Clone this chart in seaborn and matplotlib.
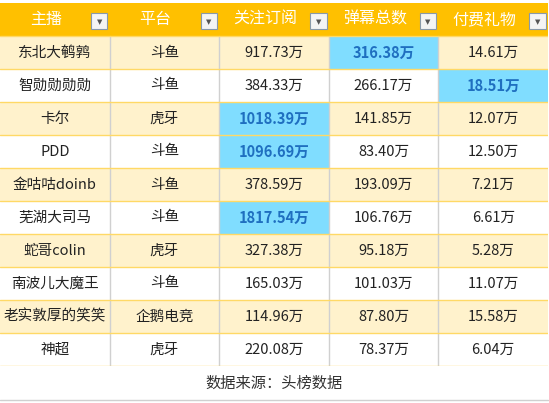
import matplotlib
matplotlib.use("Agg")
import matplotlib.pyplot as plt
import seaborn as sns
import numpy as np
from matplotlib.colors import ListedColormap
from matplotlib.patches import Rectangle

sns.set_theme(style="white")
plt.rcParams['font.family'] = ['Noto Sans CJK SC', 'DejaVu Sans']

headers = ["主播", "平台", "关注订阅", "弹幕总数", "付费礼物"]
streamers = ["东北大鹌鹑", "智勋勋勋勋", "卡尔", "PDD", "金咕咕doinb", "芜湖大司马",
             "蛇哥colin", "南波儿大魔王", "老实敦厚的笑笑", "神超"]
platforms = ["斗鱼", "斗鱼", "虎牙", "斗鱼", "斗鱼", "斗鱼", "虎牙", "斗鱼", "企鹅电竞", "虎牙"]
follows = [917.73, 384.33, 1018.39, 1096.69, 378.59, 1817.54, 327.38, 165.03, 114.96, 220.08]
danmu = [316.38, 266.17, 141.85, 83.40, 193.09, 106.76, 95.18, 101.03, 87.80, 78.37]
gifts = [14.61, 18.51, 12.07, 12.50, 7.21, 6.61, 5.28, 11.07, 15.58, 6.04]
highlight = [(0, 3), (1, 4), (2, 2), (3, 2), (5, 2)]
footer = "数据来源：头榜数据"

n = len(streamers)
codes = np.zeros((n + 1, 5))
codes[0, :] = 3
for i in range(n):
    codes[i + 1, :] = 1 if i % 2 == 0 else 0
for r, c in highlight:
    codes[r + 1, c] = 2
labels = [headers]
for i in range(n):
    labels.append([streamers[i], platforms[i], f"{follows[i]:.2f}万",
                   f"{danmu[i]:.2f}万", f"{gifts[i]:.2f}万"])
labels = np.array(labels, dtype=object)

cmap = ListedColormap(["#FFFFFF", "#FFF2CC", "#80DDFF", "#FFC000"])
fig = plt.figure(figsize=(5.49, 4.03), dpi=100)
ax = fig.add_axes([0, 1 - 366 / 403, 548 / 549, 363 / 403])
sns.heatmap(codes, cmap=cmap, vmin=-0.5, vmax=3.5, cbar=False, annot=False,
            linewidths=0, ax=ax)
for i in range(n + 1):
    for j in range(5):
        t = labels[i, j]
        if i == 0:
            ax.text(j + 0.42, i + 0.5, t, ha="center", va="center", color="white",
                    fontsize=11.5)
        elif codes[i, j] == 2:
            ax.text(j + 0.5, i + 0.5, t, ha="center", va="center", color="#1F6FC0",
                    fontsize=10.5, fontweight="bold")
        else:
            ax.text(j + 0.5, i + 0.5, t, ha="center", va="center", color="#222222",
                    fontsize=10.5)
for j in range(5):
    ax.add_patch(Rectangle((j + 0.83, 0.3), 0.15, 0.5, facecolor="#F4F4F4",
                           edgecolor="#8899AA", lw=0.8))
    ax.text(j + 0.905, 0.57, "▼", ha="center", va="center", fontsize=5,
            color="#555555", family=["DejaVu Sans"])
for j in range(1, 5):
    ax.axvline(j, ymin=0, ymax=1 - 1 / (n + 1), color="#D0D0D0", lw=1)
for i in range(1, n + 2):
    ax.axhline(i, color="#FFD966", lw=1)
ax.set_xticks([]); ax.set_yticks([])
for s in ax.spines.values():
    s.set_visible(False)
fig.text(0.5, 1 - 383 / 403, footer, ha="center", va="center", fontsize=11,
         color="#333333")
fig.add_artist(plt.Line2D([0, 548 / 549], [1 - 400 / 403] * 2, color="#D0D0D0", lw=1))
fig.savefig("out.png", dpi=100)
